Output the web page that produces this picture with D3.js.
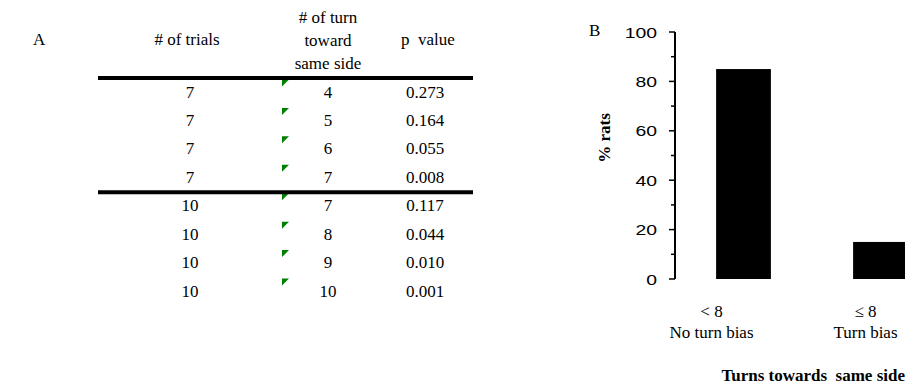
<!DOCTYPE html>
<html><head><meta charset="utf-8">
<script src="https://cdn.jsdelivr.net/npm/d3@7"></script>
<style>
html,body{margin:0;padding:0;background:#fff;overflow:hidden;}
svg{display:block;}
.serif{font-family:"Times New Roman","Liberation Serif","DejaVu Serif",serif;}
.sans{font-family:"Liberation Sans",Arial,Helvetica,sans-serif;}
</style></head>
<body>
<svg id="c" width="905" height="385"></svg>
<script>
// ---- Data: panel A (table) ----
const tableHeaders = [["# of trials"], ["# of turn", "toward", "same side"], ["p  value"]];
const trials = [7, 7, 7, 7, 10, 10, 10, 10];
const turnsSameSide = [4, 5, 6, 7, 7, 8, 9, 10];
const pValues = ["0.273", "0.164", "0.055", "0.008", "0.117", "0.044", "0.010", "0.001"];

// ---- Data: panel B (bar chart) ----
const categories = ["No turn bias", "Turn bias"];
const categoryThresholds = ["< 8", "\u2264 8"];
const percentRats = [85, 15];
const yTicks = [0, 20, 40, 60, 80, 100];
const yMinorTicks = [10, 30, 50, 70, 90];

const svg = d3.select("#c");
const FS = 17;

// ================= Panel A =================
const A = svg.append("g");
A.append("text").attr("class", "serif").attr("x", 33).attr("y", 45).attr("font-size", FS).text("A");

const colX = d3.scaleOrdinal().domain([0, 1, 2]).range([190, 328, 425]);
const headBase = [45, 23, 45];
const headDx = [-3, 0, 3];
tableHeaders.forEach((lines, i) => {
  const t = A.append("text").attr("class", "serif").attr("font-size", FS)
    .attr("text-anchor", "middle").attr("xml:space", "preserve");
  lines.forEach((l, j) => {
    t.append("tspan").attr("x", colX(i) + headDx[i]).attr("y", headBase[i] + j * 23).text(l);
  });
});

const rowY = d3.scaleLinear().domain([0, 7]).range([97.5, 296.5]);
const rows = trials.map((t, i) => ({ t, n: turnsSameSide[i], p: pValues[i], i }));

const rg = A.selectAll("g.row").data(rows).join("g").attr("class", "row");
[["t", 0], ["n", 1], ["p", 2]].forEach(([k, c]) => {
  rg.append("text").attr("class", "serif").attr("x", colX(c)).attr("y", d => rowY(d.i))
    .attr("text-anchor", "middle").attr("font-size", FS).text(d => d[k]);
});
// green comment-corner markers
rg.append("path")
  .attr("d", d => { const x = 282, y = rowY(d.i) - 18; return `M${x},${y}L${x + 7},${y}L${x},${y + 7}Z`; })
  .attr("fill", "#008000");

// rule lines
A.append("line").attr("x1", 98).attr("x2", 473).attr("y1", 78).attr("y2", 78)
  .attr("stroke", "#000").attr("stroke-width", 4);
A.append("line").attr("x1", 98).attr("x2", 473)
  .attr("y1", rowY(3) + 9.5).attr("y2", rowY(3) + 9.5)
  .attr("stroke", "#000").attr("stroke-width", 4);

// ================= Panel B =================
const B = svg.append("g");
const y = d3.scaleLinear().domain([0, 100]).range([279, 32]);
const x = d3.scaleBand().domain(categories).range([675, 949]).paddingInner(0.6).paddingOuter(0.3);

B.append("text").attr("class", "serif").attr("x", 589).attr("y", 36).attr("font-size", FS).text("B");

B.selectAll("rect.bar").data(categories).join("rect").attr("class", "bar")
  .attr("x", d => x(d)).attr("width", x.bandwidth())
  .attr("y", (d, i) => y(percentRats[i])).attr("height", (d, i) => y(0) - y(percentRats[i]))
  .attr("fill", "#000");

// axis
const axis = B.append("g").attr("transform", "translate(675,0)");
axis.append("line").attr("x1", 0).attr("x2", 0).attr("y1", y(100)).attr("y2", y(0))
  .attr("stroke", "#000").attr("stroke-width", 2);
axis.selectAll("line.maj").data(yTicks).join("line").attr("class", "maj")
  .attr("x1", -6).attr("x2", 0).attr("y1", d => y(d)).attr("y2", d => y(d))
  .attr("stroke", "#000").attr("stroke-width", 1.5);
axis.selectAll("line.min").data(yMinorTicks).join("line").attr("class", "min")
  .attr("x1", -4).attr("x2", 0).attr("y1", d => y(d)).attr("y2", d => y(d))
  .attr("stroke", "#000").attr("stroke-width", 1.5);
axis.selectAll("text.tl").data(yTicks).join("text").attr("class", "tl sans")
  .attr("transform", d => `translate(-18,${y(d)}) scale(1.25,1)`)
  .attr("dy", "0.36em")
  .attr("text-anchor", "end").attr("font-size", 15.5).text(d => d);

B.append("text").attr("class", "serif").attr("transform", "translate(610,138) rotate(-90)")
  .attr("text-anchor", "middle").attr("font-weight", "bold")
  .attr("font-size", FS).text("% rats");

const labelDx = [-32, -15];
categories.forEach((c, i) => {
  const cx = x(c) + x.bandwidth() / 2 + labelDx[i];
  B.append("text").attr("class", "serif").attr("x", cx).attr("y", 317).attr("text-anchor", "middle")
    .attr("font-size", FS).text(categoryThresholds[i]);
  B.append("text").attr("class", "serif").attr("x", cx).attr("y", 338).attr("text-anchor", "middle")
    .attr("font-size", FS).text(c);
});

B.append("text").attr("class", "serif").attr("x", 905).attr("y", 381).attr("text-anchor", "end")
  .attr("xml:space", "preserve").attr("font-weight", "bold").attr("font-size", 17)
  .text("Turns towards  same side");
</script>
</body></html>
